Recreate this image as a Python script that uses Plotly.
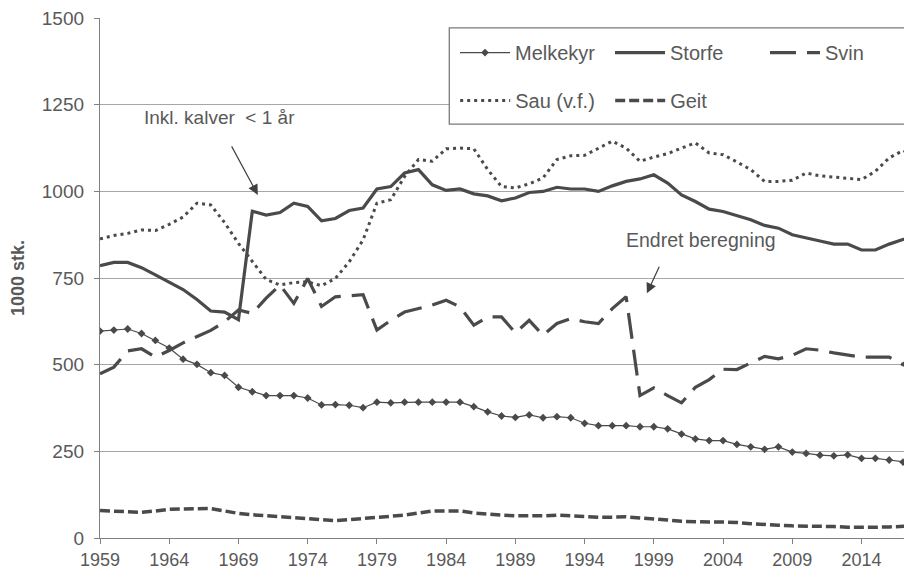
import plotly.graph_objects as go

years = list(range(1959, 2019))

melkekyr = [597, 600, 603, 590, 570, 548, 516, 501, 477, 469, 435, 422, 411, 411, 411, 404,
            384, 385, 383, 376, 392, 390, 392, 392, 392, 392, 392, 379, 364, 352, 348, 355,
            347, 350, 347, 331, 324, 324, 324, 321, 321, 315, 300, 286, 281, 281, 270, 263,
            256, 263, 248, 244, 239, 237, 240, 230, 230, 225, 219, 215]

storfe = [786, 795, 795, 780, 759, 737, 717, 688, 655, 652, 630, 943, 932, 939, 966, 957,
          915, 922, 945, 952, 1007, 1014, 1053, 1063, 1019, 1003, 1007, 993, 987, 973, 981, 997,
          1000, 1012, 1007, 1007, 1000, 1016, 1029, 1036, 1048, 1024, 990, 971, 949, 942, 931, 918,
          902, 894, 875, 865, 857, 848, 848, 831, 831, 848, 862, 875]

svin = [474, 493, 540, 546, 522, 541, 563, 580, 599, 624, 658, 648, 692, 730, 677, 749,
        668, 696, 700, 702, 600, 628, 652, 662, 672, 686, 667, 614, 638, 638, 592, 628,
        585, 619, 633, 624, 619, 662, 696, 411, 433, 411, 390, 435, 457, 487, 486, 505,
        524, 517, 527, 546, 542, 534, 527, 522, 522, 522, 500, 544]

sau = [863, 873, 879, 889, 887, 905, 926, 966, 961, 910, 850, 797, 746, 730, 737, 739,
       728, 749, 797, 860, 966, 976, 1043, 1092, 1087, 1123, 1125, 1123, 1063, 1014, 1010, 1022,
       1039, 1092, 1103, 1104, 1125, 1145, 1125, 1087, 1099, 1109, 1125, 1140, 1111, 1106, 1085, 1063,
       1029, 1029, 1032, 1053, 1045, 1041, 1036, 1034, 1058, 1097, 1118, 1100]

geit = [79, 78, 76, 74, 78, 83, 84, 85, 85, 78, 71, 67, 64, 62, 58, 54,
        52, 50, 53, 56, 60, 63, 66, 72, 78, 78, 78, 72, 68, 66, 64, 63,
        64, 66, 64, 61, 60, 60, 61, 58, 56, 52, 48, 46, 46, 46, 45, 41,
        38, 37, 35, 35, 34, 33, 31, 30, 31, 32, 33, 35]

y_ticks = [0, 250, 500, 750, 1000, 1250, 1500]
x_ticks = [1959, 1964, 1969, 1974, 1979, 1984, 1989, 1994, 1999, 2004, 2009, 2014]

LINE = "#4a4a4a"
TEXT = "#595959"
GRID = "#a6a6a6"
FONT = "Liberation Sans, Arial, sans-serif"

fig = go.Figure()

fig.add_trace(go.Scatter(x=years, y=melkekyr, name="Melkekyr", mode="lines+markers",
                         line=dict(color=LINE, width=1.2),
                         marker=dict(symbol="diamond", size=6, color=LINE),
                         legend="legend"))
fig.add_trace(go.Scatter(x=years, y=storfe, name="Storfe", mode="lines",
                         line=dict(color=LINE, width=3.2), legend="legend"))
fig.add_trace(go.Scatter(x=years, y=svin, name="Svin", mode="lines",
                         line=dict(color=LINE, width=3.2, dash="26px,11px"), legend="legend"))
fig.add_trace(go.Scatter(x=years, y=sau, name="Sau (v.f.)", mode="lines",
                         line=dict(color=LINE, width=3, dash="3px,4px"), legend="legend2"))
fig.add_trace(go.Scatter(x=years, y=geit, name="Geit", mode="lines",
                         line=dict(color=LINE, width=3.5, dash="10px,4px"), legend="legend2"))

legend_common = dict(orientation="h", xanchor="left", yanchor="top",
                     font=dict(family=FONT, size=20, color=TEXT),
                     bgcolor="rgba(0,0,0,0)", borderwidth=0,
                     itemwidth=50, entrywidth=90, entrywidthmode="pixels",
                     traceorder="normal", itemclick=False)

# The page has an 8px body margin; margins compensate so the plot area lands
# where the reference has it inside the 912x570 window.
fig.update_layout(
    width=912, height=570,
    margin=dict(l=92, r=0, t=10, b=40),
    paper_bgcolor="white", plot_bgcolor="white",
    font=dict(family=FONT, size=19, color=TEXT),
    legend=dict(x=0.4342, y=0.971, **legend_common),
    legend2=dict(x=0.4342, y=0.879, **legend_common),
    xaxis=dict(range=[1959, 2018.08], tickmode="array", tickvals=x_ticks,
               ticks="outside", ticklen=5, tickcolor="#808080",
               showline=True, linecolor="#808080", linewidth=1.3,
               showgrid=False, zeroline=False, ticklabelstandoff=0,
               ticklabeloverflow="allow",
               tickfont=dict(family=FONT, size=18, color=TEXT)),
    yaxis=dict(range=[0, 1500.4], tickmode="array", tickvals=y_ticks,
               ticks="outside", ticklen=5, tickcolor="#808080",
               showline=True, linecolor="#808080", linewidth=1.3,
               showgrid=True, gridcolor=GRID, gridwidth=1, zeroline=False,
               ticklabelstandoff=6, ticklabeloverflow="allow",
               tickfont=dict(family=FONT, size=19, color=TEXT),
               title=dict(text="<b>1000 stk.</b>", standoff=14,
                          font=dict(family=FONT, size=18, color=TEXT))),
    shapes=[dict(type="rect", xref="paper", yref="paper",
                 x0=0.427, x1=1.05, y0=0.796, y1=0.981,
                 line=dict(color="#7a7a7a", width=1.3), fillcolor="white",
                 layer="above")],
    annotations=[
        dict(x=1967.6, y=1213, xref="x", yref="y", text="Inkl. kalver  < 1 år",
             showarrow=False, font=dict(family=FONT, size=19, color=TEXT)),
        dict(x=1970.4, y=990, xref="x", yref="y", text="", showarrow=True,
             ax=-27, ay=-50, arrowhead=2, arrowsize=1.7, arrowwidth=1.2,
             arrowcolor="#404040"),
        dict(x=2002.4, y=860, xref="x", yref="y", text="Endret beregning",
             showarrow=False, font=dict(family=FONT, size=19.5, color=TEXT)),
        dict(x=1998.5, y=706, xref="x", yref="y", text="", showarrow=True,
             ax=13, ay=-28, arrowhead=2, arrowsize=1.7, arrowwidth=1.2,
             arrowcolor="#404040"),
    ],
)

fig.write_html("out.html")
